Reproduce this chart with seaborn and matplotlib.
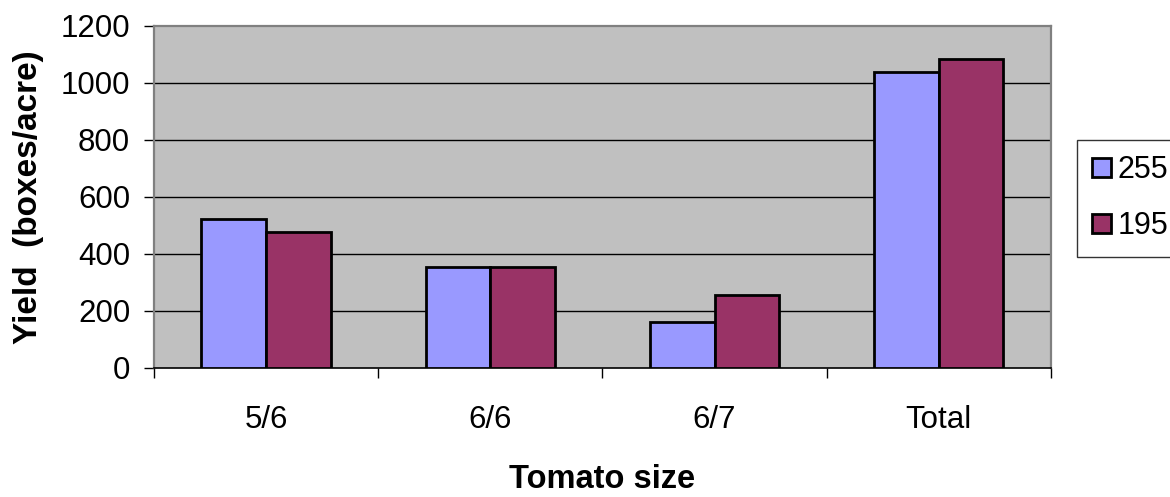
import matplotlib
matplotlib.use("Agg")
import matplotlib.pyplot as plt
import seaborn as sns
import pandas as pd
from matplotlib.ticker import FixedLocator

# Yield by tomato size for two plant populations
sizes = ["5/6", "6/6", "6/7", "Total"]
series_names = ["255", "195"]
yield_255 = [522, 352, 160, 1037]
yield_195 = [475, 352, 256, 1083]
y_ticks = [0, 200, 400, 600, 800, 1000, 1200]

df = pd.DataFrame({
    "size": sizes * 2,
    "series": [series_names[0]] * len(sizes) + [series_names[1]] * len(sizes),
    "yield": yield_255 + yield_195,
})

sns.set_theme(style="white")
plt.rcParams["font.family"] = ["Liberation Sans", "DejaVu Sans"]
plt.rcParams["text.color"] = "black"
plt.rcParams["axes.labelcolor"] = "black"
plt.rcParams["xtick.color"] = "black"
plt.rcParams["ytick.color"] = "black"

fig = plt.figure(figsize=(11.7, 4.97), dpi=100)
ax = fig.add_axes([0.132, 0.2602, 0.7659, 0.6875])
ax.set_facecolor("#C0C0C0")

sns.barplot(
    data=df, x="size", y="yield", hue="series",
    hue_order=series_names, order=sizes,
    palette=["#9999FF", "#993366"], saturation=1,
    width=0.58, edgecolor="black", linewidth=2.0,
    ax=ax, legend=True, zorder=3,
)

ax.set_ylim(0, 1200)
ax.set_xlim(-0.5, len(sizes) - 0.5)
ax.set_yticks(y_ticks)
ax.set_yticklabels([str(t) for t in y_ticks], fontsize=22.5)
ax.tick_params(axis="y", direction="out", length=7.5, width=1, color="black",
               pad=10, left=True)

# category labels centred, ticks drawn between categories
ax.set_xticks(range(len(sizes)))
ax.set_xticklabels(sizes, fontsize=22.5)
ax.tick_params(axis="x", which="major", length=0, pad=27)
ax.xaxis.set_minor_locator(FixedLocator([i - 0.5 for i in range(len(sizes) + 1)]))
ax.tick_params(axis="x", which="minor", direction="out", length=7.5, width=1,
               color="black", bottom=True)

# horizontal gridlines
for t in y_ticks[1:-1]:
    ax.axhline(t, color="black", linewidth=1.0, zorder=1)

for side in ["top", "right", "left"]:
    ax.spines[side].set_color("#808080")
    ax.spines[side].set_linewidth(1.6)
ax.spines["bottom"].set_color("black")
ax.spines["bottom"].set_linewidth(1.2)

ax.set_ylabel("Yield  (boxes/acre)", fontsize=24, fontweight="bold", labelpad=12)
ax.set_xlabel("Tomato size", fontsize=23.5, fontweight="bold", labelpad=21)

handles, labels = ax.get_legend_handles_labels()
ax.get_legend().remove()
leg = fig.legend(
    handles, labels, loc="upper left", bbox_to_anchor=(0.9205, 0.7183),
    bbox_transform=fig.transFigure, fontsize=22, frameon=True, fancybox=False,
    edgecolor="black", handlelength=0.62, handleheight=0.62, handletextpad=0.2,
    labelspacing=0.85, borderpad=0.5, borderaxespad=0,
)
leg.get_frame().set_linewidth(1.0)
for h in leg.legend_handles:
    h.set_linewidth(2.0)

fig.savefig("out.png", dpi=100)
